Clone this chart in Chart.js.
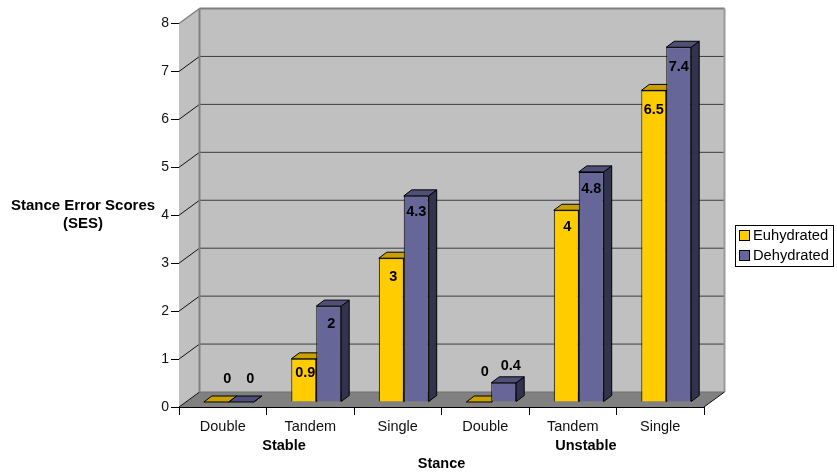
<!DOCTYPE html>
<html><head><meta charset="utf-8">
<style>html,body{margin:0;padding:0;background:#fff}#w{width:837px;height:476px;position:relative}</style>
<script src="https://cdn.jsdelivr.net/npm/chart.js@4"></script>
</head><body><div id="w"><canvas id="c"></canvas></div>
<script>
const categories = ['Double','Tandem','Single','Double','Tandem','Single'];
const euhydrated = [0,0.9,3,0,4,6.5];
const dehydrated = [0,2,4.3,0.4,4.8,7.4];
const seriesNames = ['Euhydrated','Dehydrated'];
const yTickValues = [0,1,2,3,4,5,6,7,8];
const groupNames = ['Stable','Unstable'];
const yTitleLines = ['Stance Error Scores','(SES)'];

const FONT = '"Liberation Sans", Arial, sans-serif';
const COLORS = [{front:'#FFCC00',top:'#C9A000',side:'#806600'},{front:'#666699',top:'#4F4F78',side:'#33334F'}];
const WALL={dx:20.5,dy:-15}, SHIFT={dx:6,dy:-5}, BAR={dx:8,dy:-6};
const NUDGE=[
 [[11,-23],[1.5,14],[2,19],[6,-30],[1,17],[0,20]],
 [[9,-23],[2.5,18],[0,16],[7,-17],[0,17],[0,20]]
];
function poly(ctx,pts,fill,stroke,lw){
  ctx.beginPath();pts.forEach((p,i)=>i?ctx.lineTo(p[0],p[1]):ctx.moveTo(p[0],p[1]));ctx.closePath();
  if(fill){ctx.fillStyle=fill;ctx.fill();}
  if(stroke){ctx.strokeStyle=stroke;ctx.lineWidth=lw||1;ctx.stroke();}
}
function line(ctx,x1,y1,x2,y2,c,lw){ctx.beginPath();ctx.moveTo(x1,y1);ctx.lineTo(x2,y2);ctx.strokeStyle=c;ctx.lineWidth=lw||1;ctx.stroke();}
const scene={
  id:'scene',
  beforeDatasetsDraw(chart){
    const {ctx,scales:{x,y}}=chart;
    const L=x.left,R=x.right,T=y.getPixelForValue(8),B=y.getPixelForValue(0);
    const d=WALL;
    ctx.save();
    poly(ctx,[[L,T],[L+d.dx,T+d.dy],[L+d.dx,B+d.dy],[L,B]],'#C0C0C0');
    poly(ctx,[[L+d.dx,T+d.dy],[R+d.dx,T+d.dy],[R+d.dx,B+d.dy],[L+d.dx,B+d.dy]],'#C0C0C0');
    poly(ctx,[[L,B],[L+d.dx,B+d.dy],[R+d.dx,B+d.dy],[R,B]],'#808080');
    yTickValues.forEach(v=>{
      const p=y.getPixelForValue(v);
      if(v>0&&v<8) line(ctx,L+d.dx,p+d.dy,R+d.dx,p+d.dy,'#3C3C3C',1);
      if(v<8) line(ctx,L,p,L+d.dx,p+d.dy,'#111',1);
    });
    line(ctx,L,T,L+d.dx,T+d.dy,'#808080',1.5);
    line(ctx,L+d.dx,B+d.dy,R+d.dx,B+d.dy,'#707070',1);
    line(ctx,L+d.dx,T+d.dy,L+d.dx,B+d.dy,'#808080',2);
    line(ctx,L+d.dx,T+d.dy,R+d.dx,T+d.dy,'#808080',2);
    line(ctx,R+d.dx,T+d.dy,R+d.dx,B+d.dy,'#999',2);
    line(ctx,R,B,R+d.dx,B+d.dy,'#111',1);
    // bar tops and sides, shifted into the depth of the floor
    ctx.translate(SHIFT.dx,SHIFT.dy);
    [0,1].forEach(ds=>{
      chart.getDatasetMeta(ds).data.forEach(b=>{
        const p=b.getProps(['x','y','base','width'],true);
        const l=p.x-p.width/2,r=p.x+p.width/2,t=p.y,bt=p.base,e=BAR;
        ctx.lineJoin='round';
        poly(ctx,[[r,t],[r+e.dx,t+e.dy],[r+e.dx,bt+e.dy],[r,bt]],COLORS[ds].side,'#000',1);
        poly(ctx,[[l,t],[l+e.dx,t+e.dy],[r+e.dx,t+e.dy],[r,t]],COLORS[ds].top,'#000',1);
      });
    });
    // leave the translation active for the library's bar fronts
  },
  afterDatasetsDraw(chart){
    const {ctx,scales:{x,y}}=chart;
    ctx.translate(-SHIFT.dx,-SHIFT.dy);
    ctx.restore();
    ctx.save();
    ctx.fillStyle='#000';ctx.textAlign='center';ctx.textBaseline='middle';
    ctx.font='bold 14.5px '+FONT;
    [0,1].forEach(ds=>{
      chart.getDatasetMeta(ds).data.forEach((b,i)=>{
        const p=b.getProps(['x','y'],true),n=NUDGE[ds][i];
        ctx.fillText(String(chart.data.datasets[ds].data[i]),p.x+SHIFT.dx+n[0],p.y+SHIFT.dy+n[1]);
      });
    });
    // group labels beneath the category labels
    ctx.fillText(groupNames[0],x.getPixelForValue(0.7),446);
    ctx.fillText(groupNames[1],x.getPixelForValue(4.15),446);
    // value-axis title
    ctx.font='bold 15px '+FONT;
    yTitleLines.forEach((s,i)=>ctx.fillText(s,83,206+i*18));
    // legend
    ctx.fillStyle='#fff';ctx.fillRect(735.5,225.5,98,41);
    ctx.strokeStyle='#000';ctx.lineWidth=1;ctx.strokeRect(735.5,225.5,98,41);
    ctx.textAlign='left';ctx.font='14.7px '+FONT;
    seriesNames.forEach((s,i)=>{
      const yy=236+i*20;
      ctx.fillStyle=COLORS[i].front;ctx.fillRect(739.5,yy-5.5,10,10);
      ctx.strokeStyle='#000';ctx.strokeRect(739.5,yy-5.5,10,10);
      ctx.fillStyle='#000';ctx.fillText(s,753,yy);
    });
    ctx.restore();
  }
};
new Chart(document.getElementById('c'),{
  type:'bar',
  data:{labels:categories,datasets:[
    {label:seriesNames[0],data:euhydrated,backgroundColor:COLORS[0].front,borderColor:'#000',borderWidth:1},
    {label:seriesNames[1],data:dehydrated,backgroundColor:COLORS[1].front,borderColor:'#000',borderWidth:1}
  ]},
  options:{
    responsive:true,maintainAspectRatio:false,animation:false,
    layout:{padding:{top:23.5,right:133,left:0,bottom:0}},
    datasets:{bar:{categoryPercentage:0.57,barPercentage:1}},
    plugins:{legend:{display:false},tooltip:{enabled:false},title:{display:false}},
    scales:{
      x:{
        afterFit(s){s.height=69;s.paddingLeft=0;s.paddingRight=0;},
        grid:{drawOnChartArea:false,drawTicks:true,tickLength:8,color:'#000'},
        border:{color:'#000',width:1},
        ticks:{color:'#111',font:{family:FONT,size:14.5},padding:3,maxRotation:0,autoSkip:false},
        title:{display:true,text:'Stance',color:'#000',font:{family:FONT,size:14.5,weight:'bold'},padding:{top:0,bottom:3}}
      },
      y:{
        min:0,max:8,
        afterFit(s){s.width=179;s.paddingTop=0;s.paddingBottom=0;},
        afterBuildTicks(s){s.ticks=yTickValues.map(v=>({value:v}));},
        grid:{drawOnChartArea:false,drawTicks:true,tickLength:8,color:'#000'},
        border:{color:'#000',width:1},
        ticks:{color:'#111',font:{family:FONT,size:14},padding:2}
      }
    }
  },
  plugins:[scene]
});
</script></body></html>
